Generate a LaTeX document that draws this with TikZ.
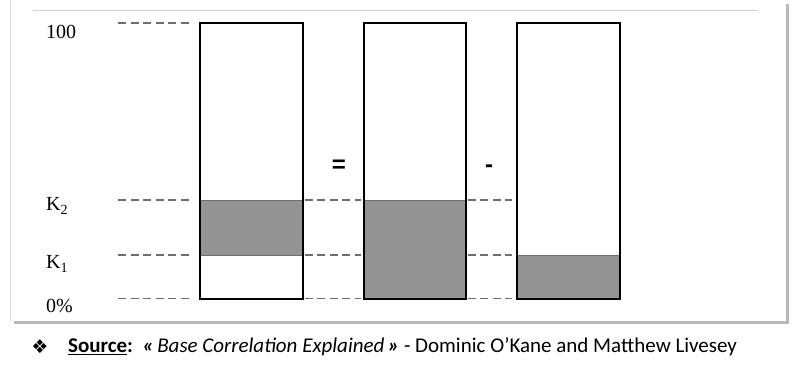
\documentclass[tikz,border=0pt]{standalone}
\usepackage{fontspec}
\setmainfont{Liberation Serif}
\newfontfamily\srcfont{Carlito}
\newfontfamily\opfont{Liberation Sans}
\newfontfamily\symfont{DejaVu Sans}
\usetikzlibrary{positioning,backgrounds}
\definecolor{trancheGray}{HTML}{939393}
\definecolor{levelGray}{HTML}{6E6E6E}
\begin{document}
\begin{tikzpicture}[x=1pt,y=-1pt,
    bar/.style={draw=black,line width=1.8pt,minimum width=103pt,minimum height=276pt,inner sep=0pt},
    level/.style={dash pattern=on 8pt off 4.5pt,levelGray,line width=1.4pt},
    lab/.style={font=\fontsize{20}{20}\selectfont,anchor=west,inner sep=0pt},
    op/.style={font=\opfont\bfseries\fontsize{24}{24}\selectfont,inner sep=0pt}]
    \useasboundingbox (0,0) rectangle (800,366);
    % Level coordinates
    \coordinate (d100) at (118,23);
    \coordinate (dK2) at (118,200);
    \coordinate (dK1) at (118,255);
    \coordinate (d0) at (118,298.5);
    % Labels on the left
    \node[lab] (l100) at (46,32) {100};
    \node[lab] (lK2) at (46,206) {K\textsubscript{2}};
    \node[lab] (lK1) at (46,264) {K\textsubscript{1}};
    \node[lab] (l0) at (46,306) {0\%};
    % The three tranches
    \node[bar] (b1) at (251.5,161) {};
    \node[bar,minimum width=102pt] (b2) at (415,161) {};
    \node[bar] (b3) at (568.5,161) {};
    \node[op] (eq) at (339,166.5) {=};
    \node[op] (minus) at (489,169) {-};
    % Shaded parts and frame
    \begin{scope}[on background layer]
        \fill[black!28] (14,4) rectangle (789,324);
        \fill[white] (10,0) rectangle (786,321);
        \draw[black!12] (10,0) -- (10,321);
        \draw[black!18,line width=1pt] (33,11) -- (758,11);
        \fill[trancheGray] (b1.west |- dK2) rectangle (b1.east |- dK1);
        \fill[trancheGray] (b2.west |- dK2) rectangle (b2.east |- d0);
        \fill[trancheGray] (b3.west |- dK1) rectangle (b3.east |- d0);
        \draw[levelGray,line width=0.8pt] (b1.west |- dK2) -- (b1.east |- dK2);
        \draw[levelGray,line width=0.8pt] (b1.west |- dK1) -- (b1.east |- dK1);
        \draw[levelGray,line width=0.8pt] (b2.west |- dK2) -- (b2.east |- dK2);
        \draw[levelGray,line width=0.8pt] (b3.west |- dK1) -- (b3.east |- dK1);
    \end{scope}
    % Dashed levels
    \draw[level] (d100) -- ([xshift=-8pt]b1.west |- d100);
    \foreach \l in {dK2,dK1,d0} {
            \draw[level] (\l) -- ([xshift=-8pt]b1.west |- \l);
            \draw[level] ([xshift=1pt]b1.east |- \l) -- ([xshift=-2pt]b2.west |- \l);
            \draw[level] ([xshift=1pt]b2.east |- \l) -- ([xshift=-4pt]b3.west |- \l);
        }
    % Source
    \node[font=\symfont\fontsize{19}{19}\selectfont] (dia) at (40,347) {❖};
    \node[anchor=west,inner sep=0pt,font=\srcfont\fontsize{21}{21}\selectfont] (src) at (68,347)
        {\underline{\textbf{Source}}\textbf{:}\ \ \textbf{\textit{«}}\,\textit{Base Correlation Explained}\,\textbf{\textit{»}} - Dominic O’Kane and Matthew Livesey};
\end{tikzpicture}
\end{document}
